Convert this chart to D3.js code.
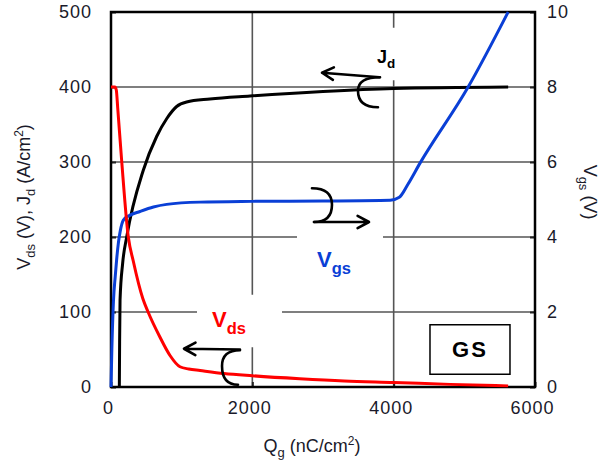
<!DOCTYPE html>
<html>
<head>
<meta charset="utf-8">
<script src="https://cdn.jsdelivr.net/npm/d3@7"></script>
<style>
  body { margin: 0; background: #fff; }
  svg { display: block; font-family: "Liberation Sans", Arial, sans-serif; }
</style>
</head>
<body>
<div id="chart"></div>
<script>
// charge (nC/cm2) vs value
const vdsData = [[0,400],[55,400],[75,396],[95,372],[150,303],[245,200],[315,168],[450,118],[525,100],[690,67],[835,42],[976,27],[1100,24],[1260,22],[1600,18],[2000,15],[2670,11],[3300,8],[4000,6],[4800,3.5],[5620,1.5]];
const jdData = [[118,0],[122,60],[128,116],[165,165],[222,200],[457,289],[646,334],[790,358],[929,374],[1070,380],[1400,384],[1967,388],[3000,394],[4000,398],[5620,400]];
const vgsData = [[0,0],[12,1.0],[35,2.3],[60,2.95],[80,3.4],[105,3.85],[130,4.15],[175,4.45],[260,4.57],[410,4.68],[600,4.8],[787,4.87],[1259,4.93],[2000,4.95],[3000,4.96],[3950,4.98],[4080,5.06],[4200,5.4],[4373,5.97],[5054,8],[5620,10]];

const xTicks = [0, 2000, 4000, 6000];
const leftTicks = [0, 100, 200, 300, 400, 500];
const rightTicks = [0, 2, 4, 6, 8, 10];

const width = 610, height = 466;
const margin = {top: 12, right: 75, bottom: 79, left: 111};

const svg = d3.select("#chart").append("svg")
  .attr("width", width)
  .attr("height", height);

const x = d3.scaleLinear().domain([0, 6000]).range([margin.left, width - margin.right]);
const y = d3.scaleLinear().domain([0, 500]).range([height - margin.bottom, margin.top]);
const y2 = d3.scaleLinear().domain([0, 10]).range([height - margin.bottom, margin.top]);

// grid
const grid = svg.append("g").attr("stroke", "#555").attr("stroke-width", 1.6);
leftTicks.filter(d => d > 0 && d < 500).forEach(d => {
  grid.append("line").attr("x1", x(0)).attr("x2", x(6000)).attr("y1", y(d)).attr("y2", y(d));
});
xTicks.filter(d => d > 0 && d < 6000).forEach(d => {
  grid.append("line").attr("x1", x(d)).attr("x2", x(d)).attr("y1", y(0)).attr("y2", y(500));
});

// white label boxes (hide grid behind labels)
const boxes = [
  [3410, 4514, 479, 409],
  [1217, 2420, 123, 53],
  [2632, 3849, 212, 140]
];
boxes.forEach(b => {
  svg.append("rect")
    .attr("x", x(b[0])).attr("width", x(b[1]) - x(b[0]))
    .attr("y", y(b[2])).attr("height", y(b[3]) - y(b[2]))
    .attr("fill", "#fff");
});

// axes
const fmt = d3.format("d");
const axL = svg.append("g").attr("transform", `translate(${x(0)},0)`)
  .call(d3.axisLeft(y).tickValues(leftTicks).tickFormat(fmt).tickSize(-5).tickPadding(19));
const axR = svg.append("g").attr("transform", `translate(${x(6000)},0)`)
  .call(d3.axisRight(y2).tickValues(rightTicks).tickFormat(fmt).tickSize(-5).tickPadding(12));
const axB = svg.append("g").attr("transform", `translate(0,${y(0)})`)
  .call(d3.axisBottom(x).tickValues(xTicks).tickFormat(fmt).tickSize(-5).tickPadding(14));
[axL, axR, axB].forEach(a => {
  a.select(".domain").remove();
  a.selectAll(".tick line").attr("stroke", "#222").attr("stroke-width", 2);
  a.selectAll(".tick text").attr("fill", "#1a1a2a").attr("font-size", 18)
    .attr("letter-spacing", 1)
    .attr("font-family", "Liberation Sans, Arial, sans-serif");
});
axB.selectAll(".tick text").attr("dx", -3);

// frame
svg.append("rect")
  .attr("x", x(0)).attr("y", y(500))
  .attr("width", x(6000) - x(0)).attr("height", y(0) - y(500))
  .attr("fill", "none").attr("stroke", "#000").attr("stroke-width", 2.5);

// curves
const lineL = d3.line().x(d => x(d[0])).y(d => y(d[1])).curve(d3.curveMonotoneX);
const lineR = d3.line().x(d => x(d[0])).y(d => y2(d[1])).curve(d3.curveMonotoneX);

svg.append("path").datum(jdData).attr("d", lineL)
  .attr("fill", "none").attr("stroke", "#000").attr("stroke-width", 3);
svg.append("path").datum(vgsData).attr("d", lineR)
  .attr("fill", "none").attr("stroke", "#0a3fd6").attr("stroke-width", 3);
svg.append("path").datum(vdsData).attr("d", lineL)
  .attr("fill", "none").attr("stroke", "#ff0000").attr("stroke-width", 3);

// annotations: curl + arrow (data units on left axis)
function curl(top, mid, bot) {
  const p = d3.path();
  p.moveTo(x(top[0]), y(top[1]));
  p.quadraticCurveTo(x(mid[0]), y(top[1]), x(mid[0]), y(mid[1]));
  p.quadraticCurveTo(x(mid[0]), y(bot[1]), x(bot[0]), y(bot[1]));
  return p.toString();
}
function arrow(from, to) {
  const x0 = x(from[0]), y0 = y(from[1]), x1 = x(to[0]), y1 = y(to[1]);
  const ang = Math.atan2(y1 - y0, x1 - x0);
  const L = 13, s = 0.5;
  return `M${x0},${y0}L${x1},${y1}` +
    `M${x1 - L * Math.cos(ang - s)},${y1 - L * Math.sin(ang - s)}L${x1},${y1}` +
    `L${x1 - L * Math.cos(ang + s)},${y1 - L * Math.sin(ang + s)}`;
}
const ann = svg.append("g").attr("fill", "none").attr("stroke", "#000")
  .attr("stroke-width", 2.6).attr("stroke-linecap", "round").attr("stroke-linejoin", "round");
// Jd
ann.append("path").attr("d", curl([3807, 413], [3495, 395], [3778, 373]));
ann.append("path").attr("d", arrow([3800, 413], [2986, 419]));
// Vds
ann.append("path").attr("d", curl([1825, 49], [1571, 28], [1797, 3]));
ann.append("path").attr("d", arrow([1825, 50], [1033, 51]));
// Vgs
ann.append("path").attr("d", curl([2844, 265], [3127, 243], [2873, 220]));
ann.append("path").attr("d", arrow([2873, 220], [3651, 220]));

function subLabel(qx, vy, main, sub, color, size) {
  const t = svg.append("text").attr("x", x(qx)).attr("y", y(vy))
    .attr("fill", color).attr("font-weight", "bold").attr("font-size", size);
  t.append("tspan").text(main);
  t.append("tspan").attr("font-size", size * 0.75).attr("dy", size * 0.3).text(sub);
}
subLabel(3764, 432, "J", "d", "#000", 18);
subLabel(1429, 80, "V", "ds", "#ff0000", 22);
subLabel(2915, 160, "V", "gs", "#0a3fd6", 22);

// GS box
svg.append("rect")
  .attr("x", x(4514)).attr("y", y(83))
  .attr("width", x(5646) - x(4514)).attr("height", y(17) - y(83))
  .attr("fill", "#fff").attr("stroke", "#000").attr("stroke-width", 1.5);
svg.append("text").attr("x", x(5080)).attr("y", y(50))
  .attr("text-anchor", "middle").attr("dominant-baseline", "central")
  .attr("font-weight", "bold").attr("font-size", 22).attr("letter-spacing", 2)
  .text("GS");

// axis titles
const tx = svg.append("text").attr("x", 312).attr("y", 452)
  .attr("text-anchor", "middle").attr("font-size", 18).attr("fill", "#1a1a2a");
tx.append("tspan").text("Q");
tx.append("tspan").attr("font-size", 13).attr("dy", 5).text("g");
tx.append("tspan").attr("dy", -5).text(" (nC/cm");
tx.append("tspan").attr("font-size", 12).attr("dy", -7).text("2");
tx.append("tspan").attr("dy", 7).text(")");

const tl = svg.append("text").attr("transform", "translate(30,197) rotate(-90)")
  .attr("text-anchor", "middle").attr("font-size", 18).attr("fill", "#1a1a2a");
tl.append("tspan").text("V");
tl.append("tspan").attr("font-size", 13).attr("dy", 5).text("ds");
tl.append("tspan").attr("dy", -5).text(" (V), J");
tl.append("tspan").attr("font-size", 13).attr("dy", 5).text("d");
tl.append("tspan").attr("dy", -5).text(" (A/cm");
tl.append("tspan").attr("font-size", 12).attr("dy", -7).text("2");
tl.append("tspan").attr("dy", 7).text(")");

const tr = svg.append("text").attr("transform", "translate(584,192) rotate(90)")
  .attr("text-anchor", "middle").attr("font-size", 18).attr("fill", "#1a1a2a");
tr.append("tspan").text("V");
tr.append("tspan").attr("font-size", 13).attr("dy", 5).text("gs");
tr.append("tspan").attr("dy", -5).text(" (V)");
</script>
</body>
</html>
